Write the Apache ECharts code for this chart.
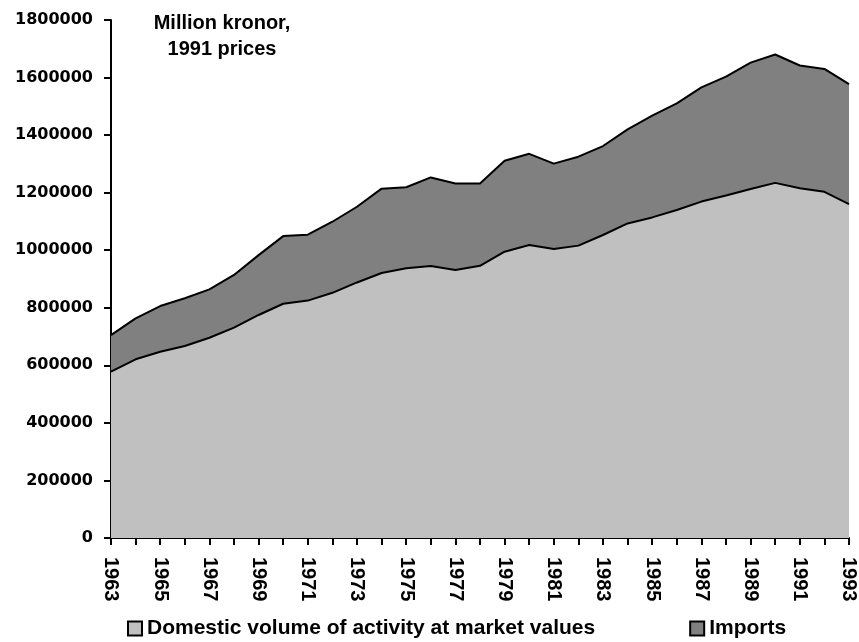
<!DOCTYPE html>
<html>
<head>
<meta charset="utf-8">
<script src="https://cdn.jsdelivr.net/npm/echarts@6/dist/echarts.min.js"></script>
<style>html,body{margin:0;padding:0;background:#fff}#c{width:859px;height:642px}</style>
</head>
<body>
<div id="c"></div>
<script>
const years = ['1963','1964','1965','1966','1967','1968','1969','1970','1971','1972','1973','1974','1975','1976','1977','1978','1979','1980','1981','1982','1983','1984','1985','1986','1987','1988','1989','1990','1991','1992','1993'];
const domestic = [578000,621000,647000,667000,696000,731000,775000,814000,825000,852000,888000,921000,937000,945000,931000,946000,995000,1018000,1004000,1016000,1053000,1093000,1114000,1140000,1169000,1190000,1213000,1234000,1215000,1203000,1160000];
const total = [705000,763000,806000,833000,864000,914000,983000,1049000,1054000,1099000,1151000,1214000,1219000,1253000,1232000,1232000,1311000,1335000,1301000,1325000,1362000,1420000,1468000,1510000,1566000,1603000,1652000,1680000,1642000,1630000,1577000];
const imports = total.map((t, i) => t - domestic[i]);
const seriesNames = ['Domestic volume of activity at market values', 'Imports'];
const noteText = 'Million kronor,\n1991 prices';

const chart = echarts.init(document.getElementById('c'), null, {renderer: 'canvas'});
const arial = 'Arial, "Liberation Sans", sans-serif';
const wide = '"DejaVu Sans", sans-serif';
chart.setOption({
  animation: false,
  backgroundColor: '#fff',
  grid: {left: 111, right: 8, top: 20, bottom: 104, containLabel: false},
  legend: {
    data: seriesNames,
    left: 127, top: 618, padding: 0,
    icon: 'rect', itemWidth: 14, itemHeight: 14, itemGap: 94,
    textStyle: {fontFamily: arial, fontWeight: 'bold', fontSize: 21, color: '#000'}
  },
  graphic: [{
    type: 'text', x: 222, y: 10,
    style: {text: noteText, font: 'bold 20px ' + arial, fill: '#000', textAlign: 'center', textVerticalAlign: 'top', lineHeight: 26}
  }],
  xAxis: {
    type: 'category', data: years, boundaryGap: false,
    axisLine: {lineStyle: {color: '#000', width: 2}},
    axisTick: {interval: 0, length: 7, lineStyle: {color: '#000', width: 2}},
    axisLabel: {interval: 1, rotate: -90, color: '#000', fontFamily: arial, fontWeight: 'bold', fontSize: 20, margin: 19}
  },
  yAxis: {
    type: 'value', min: 0, max: 1800000, interval: 200000,
    axisLine: {show: true, lineStyle: {color: '#000', width: 2}},
    axisTick: {show: true, length: 7, lineStyle: {color: '#000', width: 2}},
    splitLine: {show: false},
    axisLabel: {color: '#000', fontFamily: wide, fontWeight: 'bold', fontSize: 16, margin: 18, formatter: v => String(v)}
  },
  series: [
    {name: seriesNames[0], type: 'line', stack: 'a', data: domestic, symbol: 'none',
     lineStyle: {color: '#000', width: 2}, itemStyle: {color: '#c0c0c0', borderColor: '#000', borderWidth: 2},
     areaStyle: {color: '#c0c0c0', opacity: 1}},
    {name: seriesNames[1], type: 'line', stack: 'a', data: imports, symbol: 'none',
     lineStyle: {color: '#000', width: 2}, itemStyle: {color: '#808080', borderColor: '#000', borderWidth: 2},
     areaStyle: {color: '#808080', opacity: 1}}
  ]
});
</script>
</body>
</html>
